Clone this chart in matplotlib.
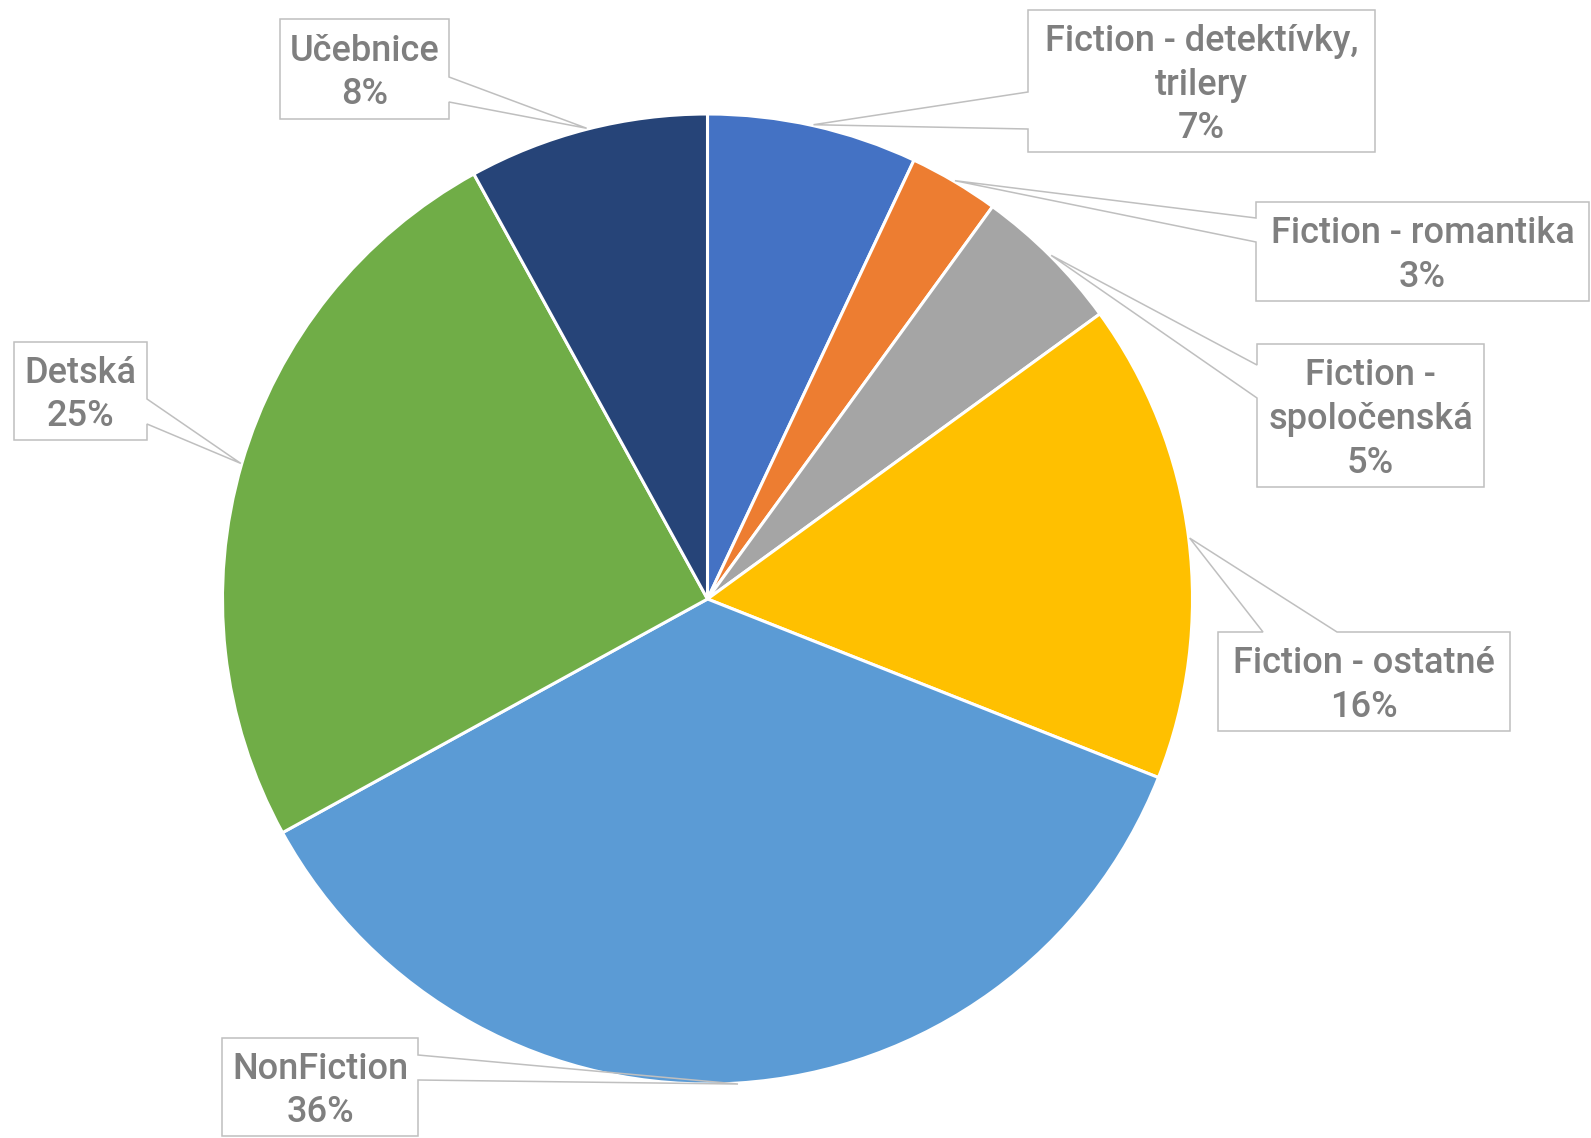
import matplotlib
matplotlib.use("Agg")
import matplotlib.pyplot as plt
import numpy as np
from matplotlib.patches import Polygon

# ---- data ----
categories = ["Fiction - detektívky,\ntrilery", "Fiction - romantika", "Fiction -\nspoločenská",
              "Fiction - ostatné", "NonFiction", "Detská", "Učebnice"]
values = [7, 3, 5, 16, 36, 25, 8]
colors = ["#4472C4", "#ED7D31", "#A5A5A5", "#FFC000", "#5B9BD5", "#70AD47", "#264478"]

# label box layout (pixels): x0, y0, x1, y1 ; side of pointer and the two attach coords
boxes = [
    (1028, 10, 1375, 152, "left", 92, 129),
    (1256, 202, 1589, 301, "left", 218, 242),
    (1257, 344, 1484, 487, "left", 365, 398),
    (1218, 632, 1510, 731, "top", 1263, 1337),
    (222, 1038, 418, 1136, "right", 1055, 1080),
    (14, 342, 147, 440, "right", 399, 424),
    (280, 19, 449, 119, "right", 77, 102),
]

W, H = 1591, 1138
cx, cy, R = 707.5, 599, 485

plt.rcParams['font.family'] = ['Roboto', 'DejaVu Sans']
fig = plt.figure(figsize=(W / 100, H / 100), dpi=100)
ax = fig.add_axes([0, 0, 1, 1])
ax.pie(values, colors=colors, startangle=-90, counterclock=True, center=(cx, cy), radius=R,
       wedgeprops=dict(edgecolor="white", linewidth=2.2), frame=False)
ax.set_xlim(0, W)
ax.set_ylim(H, 0)
ax.set_aspect('equal')
ax.axis('off')

total = sum(values)
cum = np.cumsum([0] + values)
for i, (lab, v) in enumerate(zip(categories, values)):
    mid = (cum[i] + cum[i + 1]) / 2 / total
    th = np.deg2rad(-90 + 360 * mid)
    axp, ayp = cx + (R + 1) * np.cos(th), cy + (R + 1) * np.sin(th)
    x0, y0, x1, y1, side, a, b = boxes[i]
    if side == "left":
        pts = [(x0, y0), (x1, y0), (x1, y1), (x0, y1), (x0, b), (axp, ayp), (x0, a)]
    elif side == "right":
        pts = [(x0, y0), (x1, y0), (x1, a), (axp, ayp), (x1, b), (x1, y1), (x0, y1)]
    else:  # top
        pts = [(x0, y0), (a, y0), (axp, ayp), (b, y0), (x1, y0), (x1, y1), (x0, y1)]
    ax.add_patch(Polygon(pts, closed=True, fill=False, edgecolor="#BFBFBF", linewidth=1.1, zorder=3))
    ax.text((x0 + x1) / 2, (y0 + y1) / 2 + 4, f"{lab}\n{v}%", ha="center", va="center",
            multialignment="center", fontsize=26, fontweight="medium", color="#7F7F7F",
            linespacing=1.32, zorder=4)

fig.savefig("out.png", dpi=100)
